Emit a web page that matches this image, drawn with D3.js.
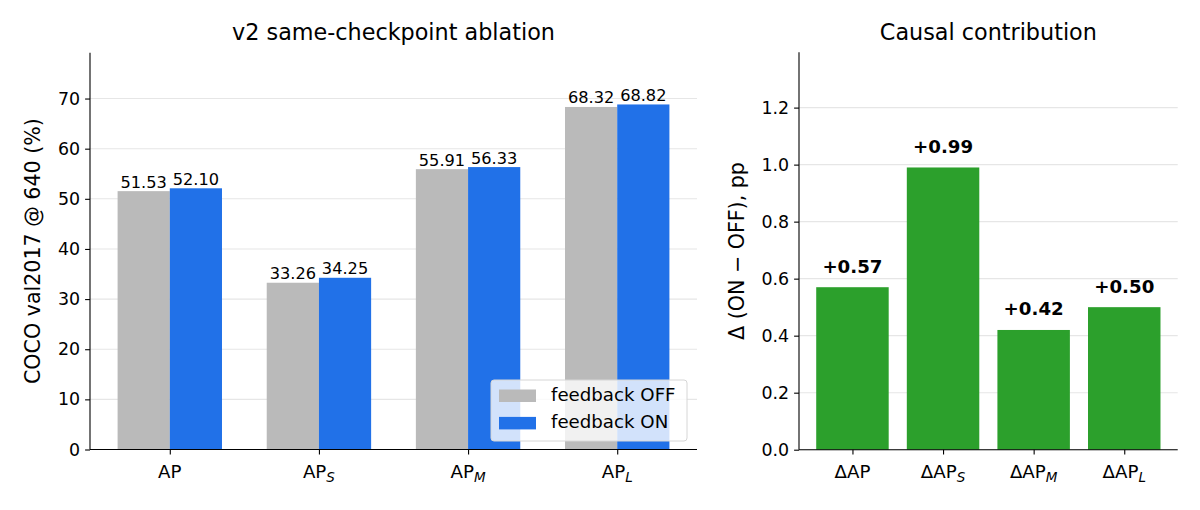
<!DOCTYPE html>
<html><head>
<meta charset="utf-8"/>
<script src="https://d3js.org/d3.v7.min.js"></script>
<style>
  body { margin: 0; padding: 0; background: #fff; font-family: 'DejaVu Sans', sans-serif; }
  svg text { font-family: 'DejaVu Sans', sans-serif; fill: #000; }
</style>
</head>
<body>
<div id="chart"></div>
<script>
// data
const cats = ["AP", "S", "M", "L"];            // subscript part ("AP" = none)
const offVals = [51.53, 33.26, 55.91, 68.32];
const onVals = [52.10, 34.25, 56.33, 68.82];
const deltaVals = [0.57, 0.99, 0.42, 0.50];
const leftTicks = [0, 10, 20, 30, 40, 50, 60, 70];
const rightTicks = [0.0, 0.2, 0.4, 0.6, 0.8, 1.0, 1.2];
const seriesNames = ["feedback OFF", "feedback ON"];

const W = 1200, H = 510;
const svg = d3.select("#chart").append("svg").attr("width", W).attr("height", H);

const GRID = "#e6e6e6";
const TICK_FS = "17.4px", CAT_FS = "18.2px", LABEL_FS = "20.6px", TITLE_FS = "22.3px";

function apLabel(sel, prefix, sub) {
  sel.text(null);
  sel.append("tspan").text(prefix + "AP");
  if (sub) {
    sel.append("tspan").attr("dy", 4).style("font-size", "13.5px").style("font-style", "italic").text(sub);
  }
}

// ---- left panel ----
const L = {x0: 90, x1: 697, y0: 52.7, y1: 449.5};
const xL = d3.scaleLinear().domain([-0.535, 3.535]).range([L.x0, L.x1]);
const yL = d3.scaleLinear().domain([0, 68.82 * 1.15]).range([L.y1, L.y0]);
const bw = 0.35;

const gl = svg.append("g");
gl.selectAll(".grid").data(leftTicks).enter().append("line")
  .attr("x1", L.x0).attr("x2", L.x1)
  .attr("y1", d => yL(d)).attr("y2", d => yL(d))
  .attr("stroke", GRID).attr("stroke-width", 1.1);

gl.selectAll(".off").data(offVals).enter().append("rect")
  .attr("x", (d, i) => xL(i - bw)).attr("width", xL(bw) - xL(0))
  .attr("y", d => yL(d)).attr("height", d => yL(0) - yL(d))
  .attr("fill", "#bababa");
gl.selectAll(".on").data(onVals).enter().append("rect")
  .attr("x", (d, i) => xL(i)).attr("width", xL(bw) - xL(0))
  .attr("y", d => yL(d)).attr("height", d => yL(0) - yL(d))
  .attr("fill", "#2171e8");

gl.selectAll(".offlab").data(offVals).enter().append("text")
  .attr("x", (d, i) => xL(i - bw / 2)).attr("y", d => yL(d) - 3.5)
  .attr("text-anchor", "middle").style("font-size", "16.2px").text(d => d.toFixed(2));
gl.selectAll(".onlab").data(onVals).enter().append("text")
  .attr("x", (d, i) => xL(i + bw / 2)).attr("y", d => yL(d) - 3.5)
  .attr("text-anchor", "middle").style("font-size", "16.2px").text(d => d.toFixed(2));

// axes
const axL = gl.append("g").attr("transform", `translate(${L.x0},0)`)
  .call(d3.axisLeft(yL).tickValues(leftTicks).tickSize(4.9).tickPadding(5));
const axLB = gl.append("g").attr("transform", `translate(0,${L.y1})`)
  .call(d3.axisBottom(xL).tickValues([0, 1, 2, 3]).tickSize(4.9).tickFormat(""));
[axL, axLB].forEach(a => {
  a.select(".domain").attr("stroke", "#000").attr("stroke-width", 1.1);
  a.selectAll(".tick line").attr("stroke", "#000").attr("stroke-width", 1.1);
  a.selectAll("text").style("font-size", TICK_FS).style("font-family", "DejaVu Sans");
});
axL.select(".domain").attr("d", `M0,${L.y0}V${L.y1}`);
axLB.select(".domain").attr("d", `M${L.x0},0H${L.x1}`);
cats.forEach((c, i) => {
  const t = gl.append("text").attr("x", xL(i)).attr("y", L.y1 + 28.5)
    .attr("text-anchor", "middle").style("font-size", CAT_FS);
  apLabel(t, "", c === "AP" ? null : c);
});

gl.append("text").attr("transform", `translate(40,${(L.y0 + L.y1) / 2}) rotate(-90)`)
  .attr("text-anchor", "middle").style("font-size", LABEL_FS).text("COCO val2017 @ 640 (%)");
gl.append("text").attr("x", (L.x0 + L.x1) / 2).attr("y", 40)
  .attr("text-anchor", "middle").style("font-size", TITLE_FS).text("v2 same-checkpoint ablation");

// legend
const lg = gl.append("g").attr("transform", "translate(491,380)");
lg.append("rect").attr("width", 196).attr("height", 61).attr("rx", 3)
  .attr("fill", "rgba(255,255,255,0.8)").attr("stroke", "#d6d6d6").attr("stroke-width", 1);
const lgColors = ["#bababa", "#2171e8"];
seriesNames.forEach((n, i) => {
  lg.append("rect").attr("x", 8).attr("y", 9.5 + i * 27.4).attr("width", 37).attr("height", 12.5).attr("fill", lgColors[i]);
  lg.append("text").attr("x", 60).attr("y", 21 + i * 27.4).style("font-size", "18.2px").text(n);
});

// ---- right panel ----
const R = {x0: 799, x1: 1177.7, y0: 52.3, y1: 449.7};
const xR = d3.scaleLinear().domain([-0.59, 3.59]).range([R.x0, R.x1]);
const yR = d3.scaleLinear().domain([0, 1.394]).range([R.y1, R.y0]);
const gr = svg.append("g");
gr.selectAll(".grid").data(rightTicks).enter().append("line")
  .attr("x1", R.x0).attr("x2", R.x1)
  .attr("y1", d => yR(d)).attr("y2", d => yR(d))
  .attr("stroke", GRID).attr("stroke-width", 1.1);
gr.selectAll(".bar").data(deltaVals).enter().append("rect")
  .attr("x", (d, i) => xR(i - 0.4)).attr("width", xR(0.8) - xR(0))
  .attr("y", d => yR(d)).attr("height", d => yR(0) - yR(d))
  .attr("fill", "#2ca02c");
gr.selectAll(".lab").data(deltaVals).enter().append("text")
  .attr("x", (d, i) => xR(i)).attr("y", d => yR(d) - 14.5)
  .attr("text-anchor", "middle").style("font-size", "18.2px").style("font-weight", "bold")
  .text(d => "+" + d.toFixed(2));

const axR = gr.append("g").attr("transform", `translate(${R.x0},0)`)
  .call(d3.axisLeft(yR).tickValues(rightTicks).tickSize(4.9).tickPadding(5).tickFormat(d3.format(".1f")));
const axRB = gr.append("g").attr("transform", `translate(0,${R.y1})`)
  .call(d3.axisBottom(xR).tickValues([0, 1, 2, 3]).tickSize(4.9).tickFormat(""));
[axR, axRB].forEach(a => {
  a.select(".domain").attr("stroke", "#000").attr("stroke-width", 1.1);
  a.selectAll(".tick line").attr("stroke", "#000").attr("stroke-width", 1.1);
  a.selectAll("text").style("font-size", TICK_FS).style("font-family", "DejaVu Sans");
});
axR.select(".domain").attr("d", `M0,${R.y0}V${R.y1}`);
axRB.select(".domain").attr("d", `M${R.x0},0H${R.x1}`);
cats.forEach((c, i) => {
  const t = gr.append("text").attr("x", xR(i)).attr("y", R.y1 + 28.5)
    .attr("text-anchor", "middle").style("font-size", CAT_FS);
  apLabel(t, "\u0394", c === "AP" ? null : c);
});
gr.append("text").attr("transform", `translate(744,${(R.y0 + R.y1) / 2}) rotate(-90)`)
  .attr("text-anchor", "middle").style("font-size", LABEL_FS).text("\u0394 (ON \u2212 OFF), pp");
gr.append("text").attr("x", (R.x0 + R.x1) / 2).attr("y", 40)
  .attr("text-anchor", "middle").style("font-size", TITLE_FS).text("Causal contribution");
</script>
</body></html>
